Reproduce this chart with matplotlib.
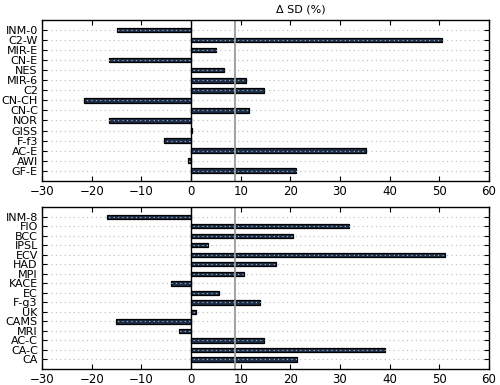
import matplotlib
matplotlib.use('Agg')
import matplotlib.pyplot as plt
import numpy as np

# top panel
models_top = ['INM-0', 'C2-W', 'MIR-E', 'CN-E', 'NES', 'MIR-6', 'C2', 'CN-CH',
              'CN-C', 'NOR', 'GISS', 'F-f3', 'AC-E', 'AWI', 'GF-E']
dsd_top = [-15.0, 50.6, 5.0, -16.6, 6.6, 11.1, 14.7, -21.5,
           11.6, -16.5, 0.3, -5.5, 35.3, -0.7, 21.1]

# bottom panel
models_bot = ['INM-8', 'FIO', 'BCC', 'IPSL', 'ECV', 'HAD', 'MPI', 'KACE',
              'EC', 'F-g3', 'UK', 'CAMS', 'MRI', 'AC-C', 'CA-C', 'CA']
dsd_bot = [-17.0, 31.8, 20.5, 3.4, 51.2, 17.2, 10.7, -4.0,
           5.6, 13.9, 1.1, -15.1, -2.4, 14.6, 39.1, 21.3]

ref_line = 8.8
xticks = [-30, -20, -10, 0, 10, 20, 30, 40, 50, 60]

fig = plt.figure(figsize=(5, 3.85), dpi=100)
ax1 = fig.add_axes([0.084, 0.5306, 0.894, 0.4174])
ax2 = fig.add_axes([0.084, 0.0416, 0.894, 0.42])

for ax, names, vals in [(ax1, models_top, dsd_top), (ax2, models_bot, dsd_bot)]:
    pos = np.arange(len(names))
    ax.barh(pos, vals, height=0.45, color='#1c2e4a', edgecolor='black', linewidth=0.9)
    ax.axvline(0, color='black', lw=1)
    ax.axvline(ref_line, color='#999999', lw=1.3)
    ax.set_yticks(pos)
    ax.set_yticklabels(names, fontsize=8)
    ax.set_ylim(len(names), -1)
    ax.set_xlim(-30, 60)
    ax.set_xticks(xticks)
    ax.tick_params(axis='x', labelsize=8.5)
    ax.tick_params(direction='in', top=True, right=True, length=3.5, width=0.8, pad=3)
    ax.set_axisbelow(False)
    ax.yaxis.grid(True, linestyle=(0, (1, 3)), color='#bbbbbb', lw=0.8)
    for s in ax.spines.values():
        s.set_linewidth(1)

fig.text(0.602, 1 - 9.5 / 385, '\u0394 SD (%)', ha='center', va='center', fontsize=8)

fig.savefig('out.png', dpi=100)
